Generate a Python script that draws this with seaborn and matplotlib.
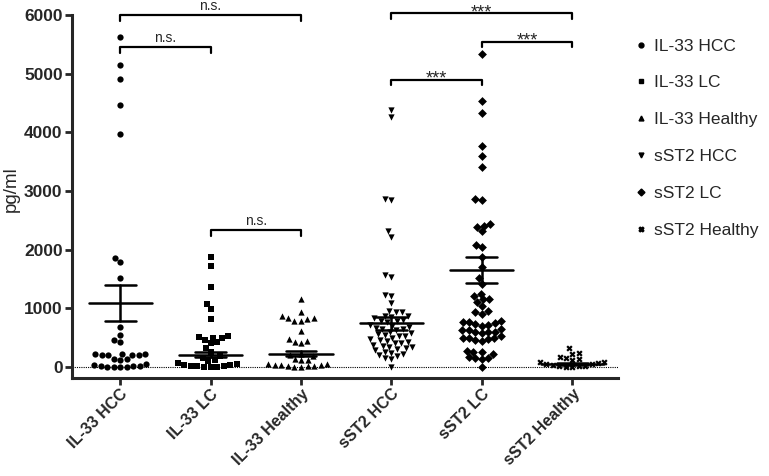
import warnings
import pandas as pd
import matplotlib.pyplot as plt
import seaborn as sns
from matplotlib.lines import Line2D
from matplotlib.transforms import ScaledTranslation

warnings.filterwarnings("ignore")

groups = ["IL-33 HCC", "IL-33 LC", "IL-33 Healthy", "sST2 HCC", "sST2 LC", "sST2 Healthy"]
markers = ["o", "s", "^", "v", "D", "X"]

il33_hcc = [5630, 5150, 4920, 4470, 3980, 1850, 1790, 1510, 680, 540, 450, 420,
            225, 220, 215, 210, 205, 200, 195, 140, 130, 120,
            40, 30, 20, 15, 10, 5, 3, 0, 0]
il33_lc = [1870, 1726, 1367, 1077, 991, 820, 530, 510, 500, 490, 460, 420, 400,
           320, 250, 180, 150, 120, 100,
           60, 40, 30, 25, 20, 15, 10, 5, 3, 0]
il33_healthy = [1160, 930, 870, 840, 830, 810, 790, 780, 615, 480, 440, 430, 400,
                220, 200, 180, 130, 120, 110,
                45, 40, 35, 30, 25, 20, 15, 10, 5, 0]
sst2_hcc = [4390, 4260, 2870, 2850, 2310, 2220, 1570, 1540, 1230, 1200, 1090,
            950, 940, 930, 870, 860, 850, 830, 800, 790, 780, 760, 720, 700,
            680, 660, 650, 640, 620, 600, 580, 560, 540, 530, 520, 500, 480,
            460, 440, 420, 410, 400, 380, 360, 340, 330, 320, 300, 280, 260,
            240, 220, 200, 180, 150, 130, 0]
sst2_lc = [5330, 4535, 4330, 3760, 3600, 3410, 2870, 2840, 2440, 2410, 2390, 2310,
           2085, 2050, 1880, 1700, 1520, 1420, 1250, 1210, 1160, 1150, 1110, 1045,
           950, 930, 900, 790, 760, 760, 750, 730, 720, 700, 650, 620, 620, 600,
           600, 600, 580, 520, 500, 500, 490, 480, 460, 440, 270, 250, 250, 220,
           160, 150, 150, 140, 0]
sst2_healthy = [320, 240, 225, 160, 150, 130, 110,
                90, 75, 60, 50, 40, 30, 20, 15, 10, 5, 0]
values = [il33_hcc, il33_lc, il33_healthy, sst2_hcc, sst2_lc, sst2_healthy]

# mean and SEM
means = [1082, 210, 227, 740, 1653, 45]
sems = [308, 48, 38, 112, 228, 12]

# significance brackets: (left group, right group, height, label)
brackets = [(0, 2, 6000, "n.s."), (0, 1, 5450, "n.s."), (1, 2, 2330, "n.s."),
            (3, 5, 6030, "***"), (4, 5, 5540, "***"), (3, 4, 4900, "***")]

sns.set_style("ticks")
plt.rcParams["font.family"] = ["Liberation Sans", "DejaVu Sans"]

df = pd.concat([pd.DataFrame({"group": g, "value": v}) for g, v in zip(groups, values)])

fig = plt.figure(figsize=(7.69, 4.76), dpi=100)
ax = fig.add_axes([0.094, 0.206, 0.710, 0.762])

for g, m in zip(groups, markers):
    sns.swarmplot(data=df[df["group"] == g], x="group", y="value", order=groups,
                  marker=m, color="black", size=4.5, ax=ax)

for i, (mu, se) in enumerate(zip(means, sems)):
    ax.plot([i - 0.35, i + 0.35], [mu, mu], color="black", lw=1.8)
    ax.plot([i - 0.17, i + 0.17], [mu + se, mu + se], color="black", lw=1.8)
    ax.plot([i - 0.17, i + 0.17], [mu - se, mu - se], color="black", lw=1.8)
    ax.plot([i, i], [mu - se, mu + se], color="black", lw=1.8)

ax.axhline(0, color="black", ls=(0, (1, 1)), lw=0.8, zorder=0)

for a, b, h, lab in brackets:
    ax.plot([a, a, b, b], [h - 90, h, h, h - 90], color="black", lw=1.6, clip_on=False)
    if lab == "***":
        ax.text((a + b) / 2, h - 60, lab, ha="center", va="baseline", fontsize=13,
                clip_on=False)
    else:
        ax.text((a + b) / 2, h + 95, lab, ha="center", va="baseline", fontsize=10,
                clip_on=False)

ax.set_xlim(-0.53, 5.51)
ax.set_ylim(-190, 6000)
ax.set_yticks([0, 1000, 2000, 3000, 4000, 5000, 6000])
ax.set_xlabel("")
ax.set_ylabel("pg/ml", fontsize=13.5)
ax.yaxis.set_label_coords(-0.097, 0.52)
ax.set_xticks(range(len(groups)))
ax.set_xticklabels(groups, rotation=45, ha="right", va="top", rotation_mode="anchor",
                   fontsize=11.5, fontweight="bold")
shift = ScaledTranslation(6 / 100, 0, fig.dpi_scale_trans)
for t in ax.get_xticklabels():
    t.set_transform(t.get_transform() + shift)
for t in ax.get_yticklabels():
    t.set_fontweight("bold")
    t.set_fontsize(12.5)
ax.tick_params(width=2, length=5)
ax.tick_params(axis="y", pad=2)
ax.tick_params(axis="x", pad=1)
sns.despine(ax=ax)
for s in ["left", "bottom"]:
    ax.spines[s].set_linewidth(2.2)

handles = [Line2D([], [], marker=m, color="black", ls="", markersize=3.5) for m in markers]
fig.legend(handles, groups, loc="upper left", bbox_to_anchor=(0.804, 0.952), frameon=False,
           fontsize=12.5, handlelength=0.8, handletextpad=0.35, labelspacing=1.25)

fig.savefig("out.png", dpi=100)
